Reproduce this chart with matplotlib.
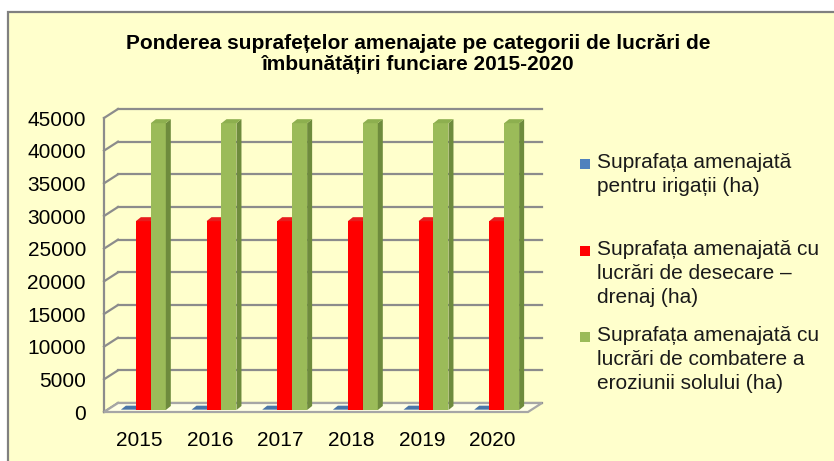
import matplotlib
matplotlib.use("Agg")
import matplotlib.pyplot as plt
from matplotlib.patches import Rectangle, Polygon

plt.rcParams["font.family"] = ["Liberation Sans", "DejaVu Sans"]

years = ["2015", "2016", "2017", "2018", "2019", "2020"]
irigatii = [50, 50, 50, 50, 50, 50]
desecare = [28900, 28900, 28900, 28900, 28900, 28900]
eroziune = [43900, 43900, 43900, 43900, 43900, 43900]

series_labels = [
    "Suprafața amenajată\npentru irigații (ha)",
    "Suprafața amenajată cu\nlucrări de desecare –\ndrenaj (ha)",
    "Suprafața amenajată cu\nlucrări de combatere a\neroziunii solului (ha)",
]
title = "Ponderea suprafețelor amenajate pe categorii de lucrări de\nîmbunătățiri funciare 2015-2020"

# front, side, top face colours
colors = [
    ("#4F81BD", "#3A6190", "#4A76A8"),
    ("#FF0000", "#B00000", "#E81C1C"),
    ("#9BBB59", "#6E8B3D", "#8DAF4F"),
]

W, H = 834, 461
fig = plt.figure(figsize=(W / 100, H / 100), dpi=100)
fig.patch.set_facecolor("white")

# outer chart frame
fig.patches.append(Rectangle((8 / W, -0.1), 1.1, (H - 12) / H + 0.1,
                             transform=fig.transFigure, facecolor="#FFFFCC",
                             edgecolor="#808080", linewidth=1.6, zorder=-5))

x0, x1, yb, yt = 104, 528, 412, 118
ax = fig.add_axes([x0 / W, (H - yb) / H, (x1 - x0) / W, (yb - yt) / H])
ax.set_xlim(-0.5, 5.5)
ax.set_ylim(0, 45000)
ax.patch.set_alpha(0)
for s in ax.spines.values():
    s.set_visible(False)

# pixel -> data helpers
px_x = 6 / (x1 - x0)
px_y = 45000 / (yb - yt)
dx, dy = 14 * px_x, 9 * px_y          # wall depth
bdx, bdy = 5 * px_x, 4 * px_y         # bar depth

grid_c = "#8C8C8C"
yticks = list(range(0, 45001, 5000))
for y in yticks:
    ax.plot([-0.5 + dx, 5.5 + dx], [y + dy, y + dy], color=grid_c, lw=1.6,
            clip_on=False, zorder=1)
    ax.plot([-0.5, -0.5 + dx], [y, y + dy], color=grid_c, lw=1.6,
            clip_on=False, zorder=1)
ax.plot([-0.5, -0.5], [0, 45000], color=grid_c, lw=1.6, clip_on=False, zorder=1)

# floor
ax.add_patch(Polygon([(-0.5, 0), (5.5, 0), (5.5 + dx, dy), (-0.5 + dx, dy)],
                     closed=True, facecolor="#FFFFE6", edgecolor="#A6A6A6",
                     lw=1.6, clip_on=False, zorder=1.5))

bw = 0.212
shift = 4 * px_x
base = 2 * px_y
for i, vals in enumerate([irigatii, desecare, eroziune]):
    front, side, top = colors[i]
    for k, v in enumerate(vals):
        xc = k + (i - 1) * bw + shift
        z = 3 + i
        ax.bar(xc, v, width=bw, bottom=base, color=front, linewidth=0,
               zorder=z)
        xr = xc + bw / 2
        xl = xc - bw / 2
        t = base + v
        ax.add_patch(Polygon([(xr, base), (xr + bdx, base + bdy),
                              (xr + bdx, t + bdy), (xr, t)], closed=True,
                             facecolor=side, lw=0, zorder=z))
        ax.add_patch(Polygon([(xl, t), (xr, t), (xr + bdx, t + bdy),
                              (xl + bdx, t + bdy)], closed=True,
                             facecolor=top, lw=0, zorder=z))

ax.set_yticks(yticks)
ax.set_yticklabels([str(y) for y in yticks], fontsize=15)
ax.set_xticks(range(len(years)))
ax.set_xticklabels(years, fontsize=15)
ax.tick_params(axis="y", length=0, pad=13)
ax.tick_params(axis="x", length=0, pad=14)

fig.text(418 / W, (H - 54) / H, title, ha="center", va="center",
         fontsize=15, fontweight="bold", linespacing=1.15)

# legend
leg_y = [164, 251, 337]
for i, lab in enumerate(series_labels):
    fig.patches.append(Rectangle((580 / W, (H - leg_y[i] - 5) / H), 10 / W, 10 / H,
                                 transform=fig.transFigure,
                                 facecolor=colors[i][0], lw=0))
    fig.text(597 / W, (H - leg_y[i] + 11) / H, lab, ha="left", va="top",
             fontsize=15, color="#1A1A1A", linespacing=1.32)

fig.savefig("out.png", dpi=100)
